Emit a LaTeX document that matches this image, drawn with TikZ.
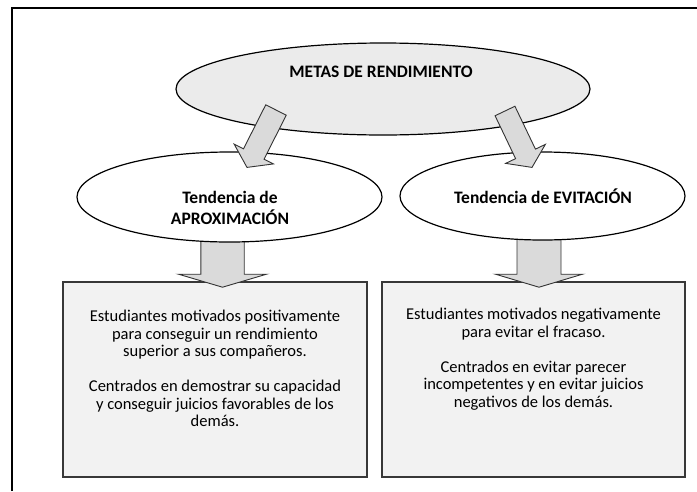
\documentclass[tikz,border=0pt]{standalone}
\usepackage{fontspec}
\setmainfont{Carlito}
\usetikzlibrary{shapes.geometric,calc}
\pgfdeclarelayer{bg}\pgfdeclarelayer{mid}\pgfsetlayers{bg,mid,main}
\definecolor{topfill}{HTML}{EBEBEB}
\definecolor{boxfill}{HTML}{F2F2F2}
\definecolor{arrfill}{HTML}{DADADA}
\definecolor{boxline}{HTML}{383838}
\newcommand\blockarr[5]{%
  \coordinate (bah) at ($(#2)!#5!(#1)$);
  \draw[blockarrow] ($(#1)!#3!90:(#2)$) -- ($(bah)!#3!90:(#2)$) -- ($(bah)!#4!90:(#2)$) -- (#2)
    -- ($(bah)!#4!-90:(#2)$) -- ($(bah)!#3!-90:(#2)$) -- ($(#1)!#3!-90:(#2)$) -- cycle;}
\begin{document}
\begin{tikzpicture}[x=1pt,y=-1pt,
  ell/.style={ellipse,draw=black,line width=1.2pt,inner sep=0pt},
  boxnode/.style={rectangle,draw=boxline,line width=1.6pt,fill=boxfill,inner sep=0pt},
  headtext/.style={font=\fontsize{17.5}{21}\selectfont\bfseries,align=center,inner sep=0pt},
  bodytext/.style={font=\fontsize{16.5}{17.5}\selectfont,align=center,inner sep=0pt},
  blockarrow/.style={draw=black!80,fill=arrfill,line width=0.9pt,line join=miter}]
\useasboundingbox (0,0) rectangle (697,491);
\draw[line width=2.2pt,line join=miter] (12,491) -- (12,8) -- (697,8);
% boxes
\begin{pgfonlayer}{bg}
\node[boxnode,minimum width=304pt,minimum height=195pt] (lbox) at (215,379.5) {};
\node[boxnode,minimum width=303pt,minimum height=195pt] (rbox) at (533.5,379.5) {};
\end{pgfonlayer}
\node[bodytext] (ltext) at (215,368.5) {Estudiantes motivados positivamente\\para conseguir un rendimiento\\superior a sus compañeros.\\[17.5pt]Centrados en demostrar su capacidad\\y conseguir juicios favorables de los\\demás.};
\node[bodytext] (rtext) at (533.5,359) {Estudiantes motivados negativamente\\para evitar el fracaso.\\[17.5pt]Centrados en evitar parecer\\incompetentes y en evitar juicios\\negativos de los demás.};
% ellipses
\node[ell,fill=topfill,minimum width=414pt,minimum height=92pt] (metas) at (383,89) {};
\node[headtext] (metastext) at (381,72) {METAS DE RENDIMIENTO};
\node[ell,fill=white,minimum width=305pt,minimum height=90pt] (aprox) at (229.5,197) {};
\node[headtext] (aproxtext) at (230,207.5) {Tendencia de\\APROXIMACIÓN};
\node[ell,fill=white,minimum width=285pt,minimum height=88pt] (evit) at (542.5,196) {};
\node[headtext] (evittext) at (543,196) {Tendencia de EVITACIÓN};
% vertical arrows
\coordinate (va-lt) at ($(aprox.south)+(-7,-6)$);
\coordinate (va-lp) at ($(lbox.north)+(7.5,6)$);
\coordinate (va-rt) at ($(evit.south)+(-3.5,-6)$);
\coordinate (va-rp) at ($(rbox.north)+(5.5,6)$);
\begin{pgfonlayer}{mid}
\blockarr{va-lt}{va-lp}{21.7pt}{44pt}{13pt}
\blockarr{va-rt}{va-rp}{22pt}{43.5pt}{13pt}
\end{pgfonlayer}
% diagonal arrows
\coordinate (da-lt) at ($(metas.center)+(-107,21)$);
\coordinate (da-lp) at ($(aprox.north)+(17.5,16)$);
\coordinate (da-rt) at ($(metas.center)+(122,22)$);
\coordinate (da-rp) at ($(evit.north)+(-10.5,16)$);
\blockarr{da-lt}{da-lp}{11.5pt}{22pt}{15pt}
\blockarr{da-rt}{da-rp}{11pt}{22pt}{15pt}
\end{tikzpicture}
\end{document}
